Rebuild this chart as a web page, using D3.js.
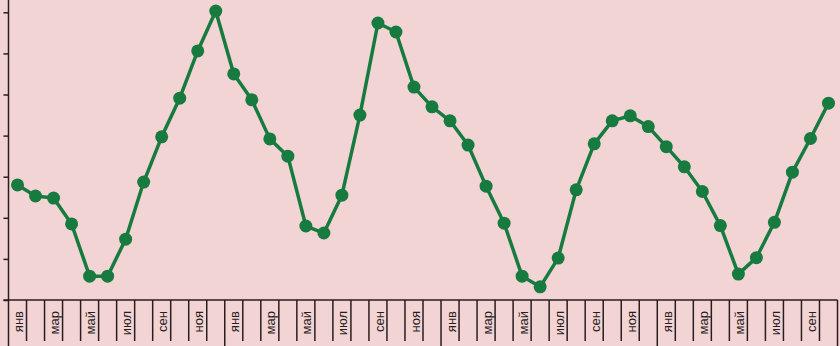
<!DOCTYPE html>
<html>
<head>
<meta charset="utf-8">
<script src="https://cdn.jsdelivr.net/npm/d3@7"></script>
<style>
  body { margin: 0; background: #f2d4d5; }
  svg { display: block; }
  .axis path, .axis line { stroke: #2b1d1d; }
</style>
</head>
<body>
<svg id="chart" width="840" height="346"></svg>
<script>
const monthNames = ["янв","фев","мар","апр","май","июн","июл","авг","сен","окт","ноя","дек"];
// 46 consecutive months, Jan of year 1 to Oct of year 4
const months = d3.range(46).map(i => monthNames[i % 12]);
const values = [2.80, 2.53, 2.48, 1.85, 0.58, 0.58, 1.48, 2.87, 3.97, 4.91, 6.06, 7.03,
                5.50, 4.87, 3.92, 3.50, 1.80, 1.63, 2.55, 4.50, 6.74, 6.52, 5.18, 4.70,
                4.36, 3.77, 2.77, 1.87, 0.58, 0.32, 1.02, 2.68, 3.80, 4.36, 4.48, 4.22,
                3.73, 3.24, 2.64, 1.81, 0.63, 1.03, 1.89, 3.11, 3.93, 4.79];
const yTicks = [0, 1, 2, 3, 4, 5, 6, 7];

const svg = d3.select("#chart");
const width = +svg.attr("width");
const height = +svg.attr("height");
const margin = { top: 0, right: 2.5, bottom: 46, left: 8.5 };
const plotBottom = height - margin.bottom;

svg.append("rect").attr("width", width).attr("height", height).attr("fill", "#f2d4d5");

const x = d3.scaleBand()
    .domain(d3.range(months.length))
    .range([margin.left, width - margin.right]);
const y = d3.scaleLinear()
    .domain([0, 7.3])
    .range([plotBottom, plotBottom - 7.3 * 41.1]);

// y axis with outside ticks
const yAxis = svg.append("g")
    .attr("class", "axis")
    .attr("transform", `translate(${margin.left},0)`)
    .call(d3.axisLeft(y).tickValues(yTicks).tickSize(5).tickFormat(""));
yAxis.select(".domain").remove();
yAxis.selectAll("line").attr("stroke-width", 1.5);
svg.append("line")
    .attr("x1", margin.left).attr("x2", margin.left)
    .attr("y1", 0).attr("y2", height)
    .attr("stroke", "#2b1d1d").attr("stroke-width", 1.5);

// x axis line
svg.append("line")
    .attr("x1", margin.left - 5).attr("x2", width - margin.right)
    .attr("y1", plotBottom).attr("y2", plotBottom)
    .attr("stroke", "#2b1d1d").attr("stroke-width", 1.5);

// dividers between months, longer ones at year breaks
const bounds = d3.range(1, months.length + 1);
svg.append("g").selectAll("line")
    .data(bounds)
    .join("line")
    .attr("x1", d => x(0) + d * x.step())
    .attr("x2", d => x(0) + d * x.step())
    .attr("y1", plotBottom)
    .attr("y2", d => (d % 12 === 0 || d === months.length) ? height : plotBottom + 41)
    .attr("stroke", "#2b1d1d")
    .attr("stroke-width", 1.5);

// month labels every other month
svg.append("g").selectAll("text")
    .data(d3.range(0, months.length, 2))
    .join("text")
    .attr("transform", d => `translate(${x(d) + x.bandwidth() / 2 + 1},311) rotate(-90)`)
    .attr("text-anchor", "end")
    .attr("dy", "0.35em")
    .style("font-family", "Liberation Sans, Arial, sans-serif")
    .style("font-size", "13px")
    .attr("fill", "#2b1d1d")
    .text(d => months[d]);

// line and markers
const line = d3.line()
    .x((d, i) => x(i) + x.bandwidth() / 2)
    .y(d => y(d));

svg.append("path")
    .datum(values)
    .attr("d", line)
    .attr("fill", "none")
    .attr("stroke", "#177a3e")
    .attr("stroke-width", 3.5)
    .attr("stroke-linejoin", "round");

svg.append("g").selectAll("circle")
    .data(values)
    .join("circle")
    .attr("cx", (d, i) => x(i) + x.bandwidth() / 2)
    .attr("cy", d => y(d))
    .attr("r", 6.5)
    .attr("fill", "#177a3e");
</script>
</body>
</html>
